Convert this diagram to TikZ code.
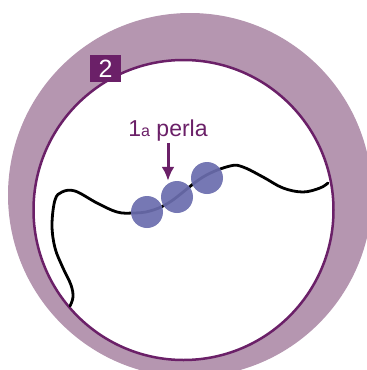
\documentclass[tikz,border=0pt]{standalone}
\usepackage{fontspec}
\setmainfont{Liberation Sans}
\usetikzlibrary{positioning,arrows.meta}
\definecolor{ringmauve}{HTML}{B596B0}
\definecolor{darkplum}{HTML}{6B2068}
\definecolor{beadblue}{HTML}{6B6DAE}
\begin{document}
\begin{tikzpicture}[x=1pt,y=-1pt,
    bead/.style = {circle, fill=beadblue, fill opacity=0.92, minimum size=32pt, inner sep=0pt},
    tag/.style = {fill=darkplum, text=white, minimum width=31pt, minimum height=27pt, inner sep=0pt, font=\fontsize{25}{25}\selectfont}]
    \useasboundingbox (0,0) rectangle (367,370);
    \begin{scope}
        \clip (0,0) rectangle (367,370);
        \fill[ringmauve] (190,195) circle (182);
    \end{scope}
    \draw[darkplum, fill=white, line width=2.5pt] (183.5,210) circle (150);
    \node[tag] (num) at (105.5,68.5) {2};
    % the thread
    \draw[black, line width=2.8pt, line join=round, line cap=round] plot[smooth, tension=0.6] coordinates {
        (70,306) (73,297) (71,285) (63,268) (55,248) (52,225) (55,200) (62,192)
        (75,191) (97,203) (117,212) (133,213) (150,211) (170,202) (203,177)
        (230,166) (243,167) (263,177) (283,188) (303,192) (320,188) (328,183)};
    \node[bead] (b1) at (147,212) {};
    \node[bead] (b2) at (177,197) {};
    \node[bead] (b3) at (207,178) {};
    \node[text=darkplum, font=\fontsize{23}{23}\selectfont, inner sep=1pt] (first) at (168,131) {1{\fontsize{16}{16}\selectfont a} perla};
    \draw[darkplum, line width=3pt, -{Latex[length=14pt,width=13pt]}] (first.south) -- (first.south |- b2.north);
\end{tikzpicture}
\end{document}
